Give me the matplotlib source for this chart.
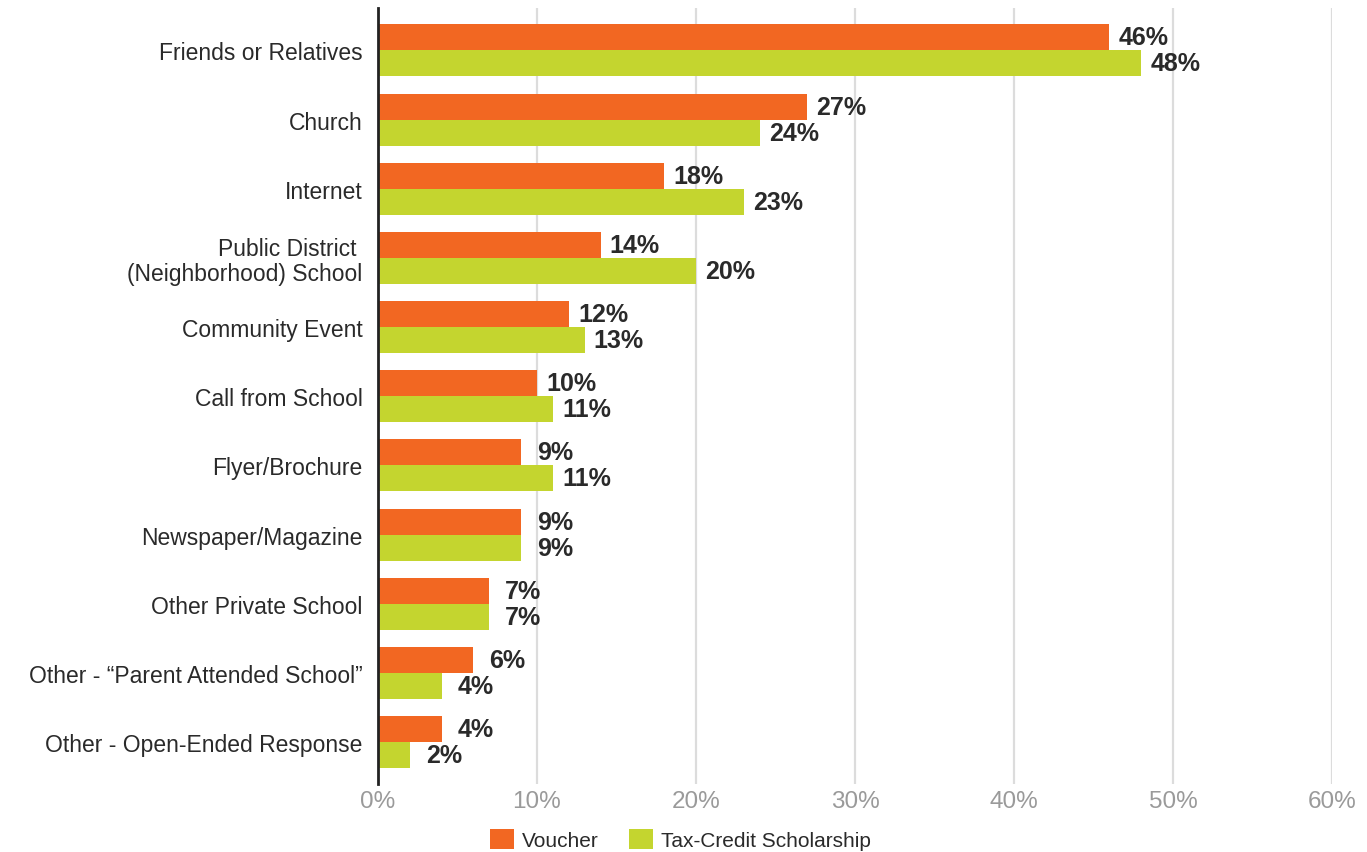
import matplotlib.pyplot as plt
import numpy as np
from matplotlib.patches import Patch

categories = [
    "Friends or Relatives",
    "Church",
    "Internet",
    "Public District \n(Neighborhood) School",
    "Community Event",
    "Call from School",
    "Flyer/Brochure",
    "Newspaper/Magazine",
    "Other Private School",
    "Other - \u201cParent Attended School\u201d",
    "Other - Open-Ended Response",
]
voucher = [46, 27, 18, 14, 12, 10, 9, 9, 7, 6, 4]
tax_credit = [48, 24, 23, 20, 13, 11, 11, 9, 7, 4, 2]
series_names = ["Voucher", "Tax-Credit Scholarship"]
x_ticks = [0, 10, 20, 30, 40, 50, 60]

ORANGE = "#F26722"
GREEN = "#C4D52F"
TEXT = "#2A2A2A"
GRAY = "#9A9A9A"
GRID = "#DCDCDC"

plt.rcParams["font.family"] = ["Liberation Sans", "DejaVu Sans"]

fig = plt.figure(figsize=(13.67, 8.53), dpi=100)
ax = fig.add_axes([378 / 1367, 1 - 785 / 853, (1332 - 378) / 1367, (785 - 8.5) / 853])

y = np.arange(len(categories))
h = 0.376
ax.barh(y - h / 2, voucher, height=h, color=ORANGE, zorder=3)
ax.barh(y + h / 2, tax_credit, height=h, color=GREEN, zorder=3)

# value labels sit centred a fixed distance past the bar end
for yi, v in zip(y - h / 2, voucher):
    ax.text(v + 2.15, yi, f"{v}%", ha="center", va="center",
            fontsize=18, fontweight="bold", color=TEXT, zorder=4)
for yi, v in zip(y + h / 2, tax_credit):
    ax.text(v + 2.15, yi, f"{v}%", ha="center", va="center",
            fontsize=18, fontweight="bold", color=TEXT, zorder=4)

ax.set_xlim(0, 60)
ax.set_ylim(len(categories) - 1 + 0.607, -0.62)
ax.set_yticks(y)
ax.set_yticklabels(categories, fontsize=16.5, color=TEXT, linespacing=1.1)
ax.set_xticks(x_ticks)
ax.set_xticklabels([f"{t}%" for t in x_ticks], fontsize=17.5, color=GRAY)
ax.tick_params(axis="y", length=0, pad=11)
ax.tick_params(axis="x", length=0, pad=4)

for s in ["top", "right", "bottom"]:
    ax.spines[s].set_visible(False)
ax.spines["left"].set_color("#222222")
ax.spines["left"].set_linewidth(2)
ax.spines["left"].set_zorder(5)

ax.xaxis.grid(True, color=GRID, linewidth=1.6, zorder=0)
ax.set_axisbelow(True)

handles = [Patch(facecolor=ORANGE, edgecolor="none"),
           Patch(facecolor=GREEN, edgecolor="none")]
fig.legend(handles, series_names, loc="upper center",
           bbox_to_anchor=(0.498, 1 - 820 / 853), ncol=2, frameon=False,
           fontsize=15, handlelength=1.15, handleheight=1.1,
           handletextpad=0.38, columnspacing=1.45, borderpad=0,
           labelcolor=TEXT)

fig.savefig("out.png", dpi=100, facecolor="white")
